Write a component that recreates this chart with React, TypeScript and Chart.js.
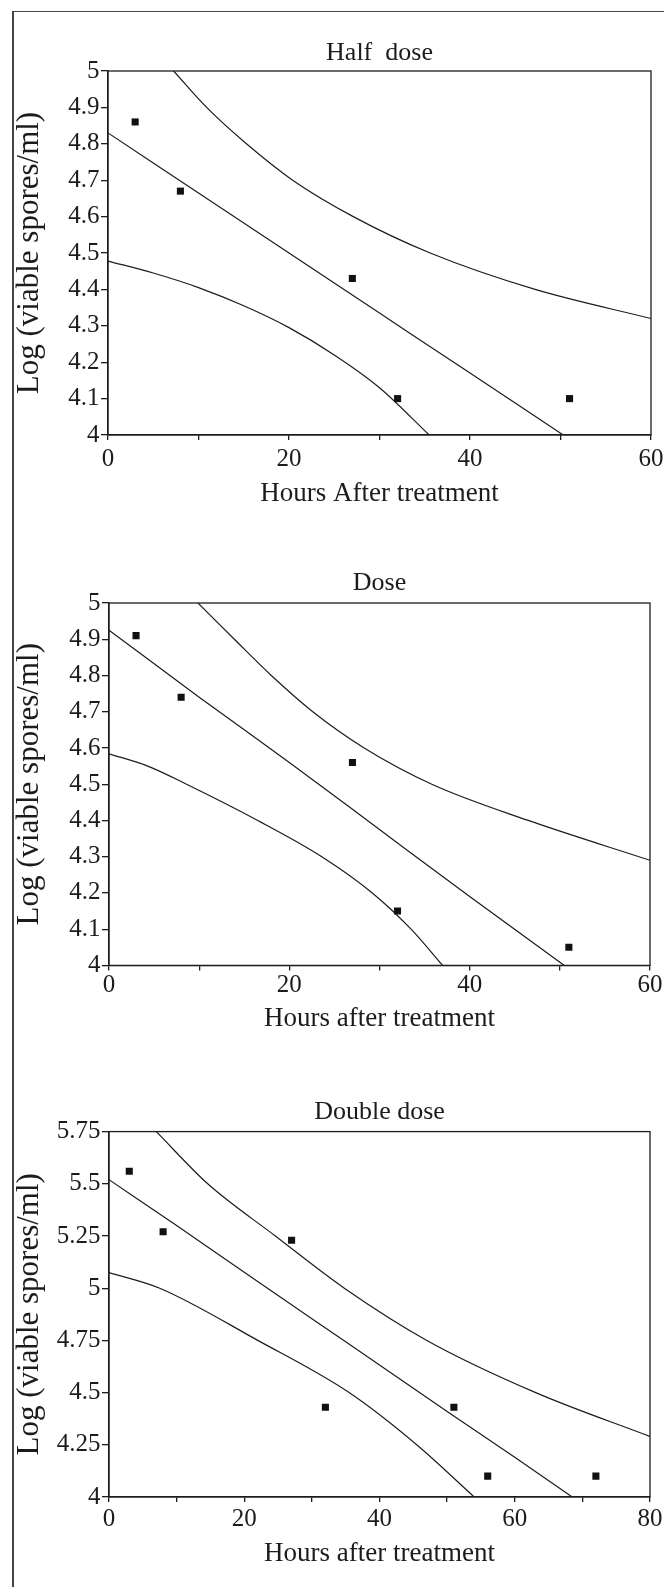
import React, { useEffect, useRef } from 'react';
import { Chart, registerables } from 'chart.js';

Chart.register(...registerables);

// ---------- Half dose ----------
const halfHours = [3, 8, 27, 32, 51];
const halfLog = [4.86, 4.67, 4.43, 4.1, 4.1];
const halfFitHours = [0, 10, 20, 30, 40, 50.3];
const halfFitLog = [4.83, 4.665, 4.5, 4.335, 4.17, 4.0];
const halfUpperHours = [7.25, 10.9, 15.3, 20.4, 27.1, 35.6, 47.2, 60];
const halfUpperLog = [5.0, 4.9, 4.8, 4.7, 4.6, 4.5, 4.4, 4.32];
const halfLowerHours = [0, 5, 10, 15, 20, 25, 30, 35.5];
const halfLowerLog = [4.478, 4.445, 4.405, 4.355, 4.295, 4.22, 4.13, 4.0];

// ---------- Dose ----------
const doseHours = [3, 8, 27, 32, 51];
const doseLog = [4.91, 4.74, 4.56, 4.15, 4.05];
const doseFitHours = [0, 10, 20, 30, 40, 50.5];
const doseFitLog = [4.925, 4.74, 4.56, 4.375, 4.19, 4.0];
const doseUpperHours = [9.87, 13.9, 18, 22.6, 28.3, 35.8, 46.5, 60];
const doseUpperLog = [5.0, 4.9, 4.8, 4.7, 4.6, 4.5, 4.4, 4.29];
const doseLowerHours = [0, 4.3, 8.6, 16.5, 23.6, 29.2, 33.5, 37];
const doseLowerLog = [4.584, 4.55, 4.5, 4.4, 4.3, 4.2, 4.1, 4.0];

// ---------- Double dose ----------
const doubleHours = [3, 8, 27, 32, 51, 56, 72];
const doubleLog = [5.56, 5.27, 5.23, 4.43, 4.43, 4.1, 4.1];
const doubleFitHours = [0, 10, 20, 30, 40, 50, 60, 68.5];
const doubleFitLog = [5.52, 5.3, 5.076, 4.854, 4.632, 4.41, 4.19, 4.0];
const doubleUpperHours = [7, 14.6, 24.6, 34.8, 47, 63.1, 80];
const doubleUpperLog = [5.75, 5.5, 5.25, 5.0, 4.75, 4.5, 4.29];
const doubleLowerHours = [0, 7.5, 22, 35.5, 45.5, 54];
const doubleLowerLog = [5.075, 5.0, 4.75, 4.5, 4.25, 4.0];

// ---------- Ticks ----------
const xTicks60 = [0, 10, 20, 30, 40, 50, 60];
const xLabels60 = ['0', '', '20', '', '40', '', '60'];
const xTicks80 = [0, 10, 20, 30, 40, 50, 60, 70, 80];
const xLabels80 = ['0', '', '20', '', '40', '', '60', '', '80'];
const yTicksTenth = [4, 4.1, 4.2, 4.3, 4.4, 4.5, 4.6, 4.7, 4.8, 4.9, 5];
const yLabelsTenth = ['4', '4.1', '4.2', '4.3', '4.4', '4.5', '4.6', '4.7', '4.8', '4.9', '5'];
const yTicksQuarter = [4, 4.25, 4.5, 4.75, 5, 5.25, 5.5, 5.75];
const yLabelsQuarter = ['4', '4.25', '4.5', '4.75', '5', '5.25', '5.5', '5.75'];

const yAxisTitle = 'Log (viable spores/ml)';

const FONT = "'Liberation Serif', 'Times New Roman', serif";
const INK = '#1c1c1c';
const TITLE_SIZE = 26;
const TICK_SIZE = 25;
const XTITLE_SIZE = 27;
const YTITLE_SIZE = 31;
const LH = 1.2;

type Geo = {
  top: number;
  height: number;
  plotTop: number;
  plotBottom: number;
  plotLeft: number;
  plotRight: number;
  titleMid: number;
  tickMid: number;
  xTitleMid: number;
  yTitleMid: number;
};

type Spec = {
  title: string;
  xTitle: string;
  xMax: number;
  xTicks: number[];
  xLabels: string[];
  yMin: number;
  yMax: number;
  yTicks: number[];
  yLabels: string[];
  hours: number[];
  logs: number[];
  curves: [number[], number[]][];
};

const zip = (xs: number[], ys: number[]) => xs.map((x, i) => ({ x, y: ys[i] }));

const framePlugin = {
  id: 'frame',
  afterDatasetsDraw(chart: any) {
    const { ctx, chartArea: a } = chart;
    ctx.save();
    ctx.strokeStyle = INK;
    ctx.lineWidth = 1.3;
    ctx.strokeRect(a.left, a.top, a.right - a.left, a.bottom - a.top);
    ctx.restore();
  },
};

function buildConfig(geo: Geo, spec: Spec): any {
  const titleLH = TITLE_SIZE * LH;
  const tickLH = TICK_SIZE * LH;
  const xtLH = XTITLE_SIZE * LH;
  const ytLH = YTITLE_SIZE * LH;
  const titlePadTop = geo.titleMid - geo.top - titleLH / 2;
  const titlePadBottom = geo.plotTop - geo.top - titlePadTop - titleLH;
  const xAxisHeight = geo.height - (geo.plotBottom - geo.top);
  const xTickLen = 5;
  const xTickPad = geo.tickMid - geo.plotBottom - xTickLen - tickLH / 2;
  const xTitlePadBottom = geo.top + geo.height - geo.xTitleMid - xtLH / 2;
  const yTitlePadTop = geo.yTitleMid - ytLH / 2;

  const datasets: any[] = spec.curves.map(([xs, ys]) => ({
    data: zip(xs, ys),
    showLine: true,
    pointRadius: 0,
    borderColor: INK,
    borderWidth: 1.2,
    cubicInterpolationMode: 'monotone',
    fill: false,
  }));
  datasets.push({
    data: zip(spec.hours, spec.logs),
    showLine: false,
    pointStyle: 'rect',
    pointRadius: 5,
    pointBackgroundColor: '#111',
    pointBorderWidth: 0,
    backgroundColor: '#111',
    borderWidth: 0,
  });

  return {
    type: 'scatter',
    data: { datasets },
    plugins: [framePlugin],
    options: {
      responsive: false,
      maintainAspectRatio: false,
      animation: false,
      events: [],
      layout: { padding: { left: 0, right: 664 - geo.plotRight, top: 0, bottom: 0 } },
      plugins: {
        legend: { display: false },
        tooltip: { enabled: false },
        title: {
          display: true,
          text: spec.title,
          fullSize: false,
          color: INK,
          font: { family: FONT, size: TITLE_SIZE, weight: 'normal', lineHeight: LH },
          padding: { top: titlePadTop, bottom: titlePadBottom },
        },
      },
      scales: {
        x: {
          type: 'linear',
          min: 0,
          max: spec.xMax,
          afterBuildTicks: (scale: any) => {
            scale.ticks = spec.xTicks.map((v) => ({ value: v }));
          },
          afterFit: (scale: any) => {
            scale.height = xAxisHeight;
            scale.paddingLeft = 0;
            scale.paddingRight = 0;
          },
          ticks: {
            autoSkip: false,
            maxRotation: 0,
            padding: xTickPad,
            color: INK,
            font: { family: FONT, size: TICK_SIZE, lineHeight: LH },
            callback: (_v: any, i: number) => spec.xLabels[i],
          },
          grid: { drawOnChartArea: false, drawTicks: true, tickLength: xTickLen, color: INK, lineWidth: 1.3 },
          border: { display: true, color: INK, width: 1.3 },
          title: {
            display: true,
            text: spec.xTitle,
            color: INK,
            font: { family: FONT, size: XTITLE_SIZE, lineHeight: LH },
            padding: { top: 0, bottom: xTitlePadBottom },
          },
        },
        y: {
          type: 'linear',
          min: spec.yMin,
          max: spec.yMax,
          afterBuildTicks: (scale: any) => {
            scale.ticks = spec.yTicks.map((v) => ({ value: v }));
          },
          afterFit: (scale: any) => {
            scale.width = geo.plotLeft;
            scale.paddingTop = 0;
            scale.paddingBottom = 0;
          },
          ticks: {
            autoSkip: false,
            padding: 1.5,
            color: INK,
            font: { family: FONT, size: TICK_SIZE, lineHeight: LH },
            callback: (_v: any, i: number) => spec.yLabels[i],
          },
          grid: { drawOnChartArea: false, drawTicks: true, tickLength: 7, color: INK, lineWidth: 1.3 },
          border: { display: true, color: INK, width: 1.3 },
          title: {
            display: true,
            text: yAxisTitle,
            color: INK,
            font: { family: FONT, size: YTITLE_SIZE, lineHeight: LH },
            padding: { top: yTitlePadTop, bottom: 0 },
          },
        },
      },
    },
  };
}

function PanelChart({ geo, spec }: { geo: Geo; spec: Spec }) {
  const ref = useRef<HTMLCanvasElement>(null);
  useEffect(() => {
    if (!ref.current) return;
    const chart = new Chart(ref.current, buildConfig(geo, spec));
    return () => chart.destroy();
  }, []);
  return (
    <canvas
      ref={ref}
      width={664}
      height={geo.height}
      style={{ position: 'absolute', left: 0, top: geo.top, width: 664, height: geo.height, display: 'block' }}
    />
  );
}

const halfSpec: Spec = {
  title: 'Half  dose',
  xTitle: 'Hours After treatment',
  xMax: 60,
  xTicks: xTicks60,
  xLabels: xLabels60,
  yMin: 4,
  yMax: 5,
  yTicks: yTicksTenth,
  yLabels: yLabelsTenth,
  hours: halfHours,
  logs: halfLog,
  curves: [
    [halfFitHours, halfFitLog],
    [halfUpperHours, halfUpperLog],
    [halfLowerHours, halfLowerLog],
  ],
};

const doseSpec: Spec = {
  title: 'Dose',
  xTitle: 'Hours after treatment',
  xMax: 60,
  xTicks: xTicks60,
  xLabels: xLabels60,
  yMin: 4,
  yMax: 5,
  yTicks: yTicksTenth,
  yLabels: yLabelsTenth,
  hours: doseHours,
  logs: doseLog,
  curves: [
    [doseFitHours, doseFitLog],
    [doseUpperHours, doseUpperLog],
    [doseLowerHours, doseLowerLog],
  ],
};

const doubleSpec: Spec = {
  title: 'Double dose',
  xTitle: 'Hours after treatment',
  xMax: 80,
  xTicks: xTicks80,
  xLabels: xLabels80,
  yMin: 4,
  yMax: 5.75,
  yTicks: yTicksQuarter,
  yLabels: yLabelsQuarter,
  hours: doubleHours,
  logs: doubleLog,
  curves: [
    [doubleFitHours, doubleFitLog],
    [doubleUpperHours, doubleUpperLog],
    [doubleLowerHours, doubleLowerLog],
  ],
};

const geoHalf: Geo = {
  top: 28, height: 490, plotTop: 71, plotBottom: 435, plotLeft: 108, plotRight: 651,
  titleMid: 53, tickMid: 459.5, xTitleMid: 493.5, yTitleMid: 30,
};
const geoDose: Geo = {
  top: 560, height: 490, plotTop: 603, plotBottom: 965.4, plotLeft: 109, plotRight: 650,
  titleMid: 583, tickMid: 985, xTitleMid: 1019, yTitleMid: 30,
};
const geoDouble: Geo = {
  top: 1090, height: 490, plotTop: 1131.6, plotBottom: 1497, plotLeft: 109, plotRight: 650,
  titleMid: 1112, tickMid: 1519, xTitleMid: 1554, yTitleMid: 30,
};

export default function App() {
  return (
    <div
      style={{
        position: 'absolute',
        left: 0,
        top: 0,
        width: 664,
        height: 1587,
        overflow: 'hidden',
        background: '#fff',
      }}
    >
      <div
        style={{
          position: 'absolute',
          left: 12,
          top: 11,
          width: 720,
          height: 1640,
          borderLeft: '2px solid #444',
          borderTop: '1.5px solid #444',
          boxSizing: 'border-box',
        }}
      />
      <PanelChart geo={geoHalf} spec={halfSpec} />
      <PanelChart geo={geoDose} spec={doseSpec} />
      <PanelChart geo={geoDouble} spec={doubleSpec} />
    </div>
  );
}
